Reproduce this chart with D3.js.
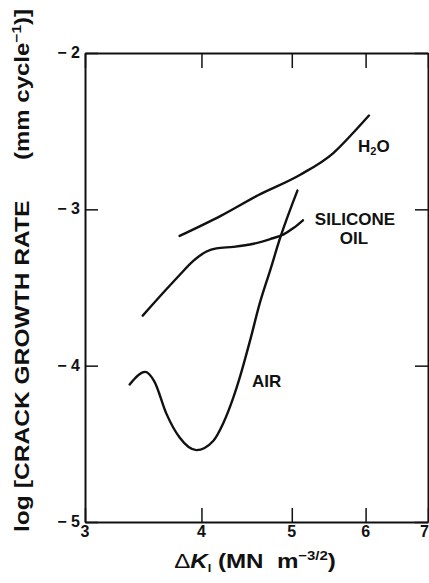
<!DOCTYPE html>
<html>
<head>
<meta charset="utf-8">
<script src="https://cdn.jsdelivr.net/npm/d3@7"></script>
<style>
  html, body { margin: 0; padding: 0; background: #fff; }
  svg { display: block; }
  text { font-family: "Liberation Sans", Arial, Helvetica, sans-serif; font-weight: bold; fill: #111; }
</style>
</head>
<body>
<div id="chart"></div>
<script>
const width = 429;
const height = 583;

// axis ticks
const xTicks = [3, 4, 5, 6, 7];
const yTicks = [-5, -4, -3, -2];

// delta K (MN m^-3/2) vs log crack growth rate
const h2oK = [3.79, 4.20, 4.60, 5.10, 5.54, 5.82, 6.05];
const h2oRate = [-3.17, -3.04, -2.91, -2.78, -2.64, -2.51, -2.40];

const oilK = [3.46, 3.67, 3.79, 3.92, 4.05, 4.15, 4.33, 4.55, 4.74, 4.90, 5.02, 5.14];
const oilRate = [-3.68, -3.51, -3.42, -3.33, -3.27, -3.25, -3.24, -3.22, -3.19, -3.16, -3.12, -3.07];

const airK = [3.35, 3.48, 3.56, 3.67, 3.79, 3.95, 4.12, 4.22, 4.33, 4.40, 4.51, 4.62, 4.74, 4.86, 5.07];
const airRate = [-4.12, -4.04, -4.10, -4.31, -4.46, -4.54, -4.48, -4.37, -4.20, -4.07, -3.84, -3.60, -3.39, -3.18, -2.88];

const svg = d3.select('#chart').append('svg').attr('width', width).attr('height', height);

const x = d3.scaleLog().domain([3, 7]).range([85, 428]);
const y = d3.scaleLinear().domain([-5, -2]).range([522, 53]);

const minus = d => '\u2212 ' + Math.abs(d);

function styleAxis(g) {
	g.select('path.domain').attr('stroke', '#111').attr('stroke-width', 2);
	g.selectAll('.tick line').attr('stroke', '#111').attr('stroke-width', 1.5);
	g.selectAll('.tick text').remove();
}

// frame and inward ticks
svg.append('g')
	.attr('transform', `translate(0,${y(-5)})`)
	.call(d3.axisBottom(x).tickValues(xTicks).tickSize(-14).tickSizeOuter(0))
	.call(styleAxis);

svg.append('g')
	.attr('transform', `translate(0,${y(-2)})`)
	.call(d3.axisTop(x).tickValues(xTicks).tickSize(-15).tickSizeOuter(0))
	.call(styleAxis);

svg.append('g')
	.attr('transform', `translate(${x(3)},0)`)
	.call(d3.axisLeft(y).tickValues(yTicks).tickSize(-13).tickSizeOuter(0))
	.call(styleAxis);

svg.append('g')
	.attr('transform', `translate(${x(7)},0)`)
	.call(d3.axisRight(y).tickValues(yTicks).tickSize(-13).tickSizeOuter(0))
	.call(styleAxis);

// tick labels
svg.selectAll('text.xtick')
	.data(xTicks)
	.enter()
	.append('text')
	.attr('class', 'xtick')
	.attr('x', d => d === 7 ? x(d) + 1 : x(d))
	.attr('y', y(-5) + 15)
	.attr('font-size', 16)
	.attr('text-anchor', d => d === 7 ? 'end' : 'middle')
	.text(d => d);

svg.selectAll('text.ytick')
	.data(yTicks)
	.enter()
	.append('text')
	.attr('class', 'ytick')
	.attr('x', x(3) - 5)
	.attr('y', d => y(d) + 5)
	.attr('font-size', 16)
	.attr('text-anchor', 'end')
	.text(minus);

const line = d3.line()
	.x(d => x(d[0]))
	.y(d => y(d[1]))
	.curve(d3.curveMonotoneX);

const series = [
	d3.zip(h2oK, h2oRate),
	d3.zip(oilK, oilRate),
	d3.zip(airK, airRate)
];

svg.selectAll('path.curve')
	.data(series)
	.enter()
	.append('path')
	.attr('class', 'curve')
	.attr('d', line)
	.attr('fill', 'none')
	.attr('stroke', '#111')
	.attr('stroke-width', 2.4)
	.attr('stroke-linecap', 'round');

// curve labels
const h2o = svg.append('text').attr('x', 358).attr('y', 152).attr('font-size', 17);
h2o.append('tspan').text('H');
h2o.append('tspan').attr('font-size', 11).attr('dy', 3).text('2');
h2o.append('tspan').attr('dy', -3).text('O');

svg.append('text').attr('x', 355).attr('y', 225).attr('font-size', 17)
	.attr('text-anchor', 'middle').text('SILICONE');
svg.append('text').attr('x', 354).attr('y', 244).attr('font-size', 17)
	.attr('text-anchor', 'middle').text('OIL');
svg.append('text').attr('x', 252).attr('y', 387).attr('font-size', 17).text('AIR');

// y title, two parts
svg.append('text')
	.attr('transform', 'translate(29,532) rotate(-90) scale(1.23,1)')
	.attr('font-size', 20)
	.text('log [CRACK GROWTH RATE');

const yUnit = svg.append('text')
	.attr('transform', 'translate(29,160) rotate(-90) scale(1.2,1)')
	.attr('font-size', 20);
yUnit.append('tspan').text('(mm cycle');
yUnit.append('tspan').attr('font-size', 13).attr('dy', -8).text('\u22121');
yUnit.append('tspan').attr('dy', 8).text(')]');

// x title
const xTitle = svg.append('text')
	.attr('transform', 'translate(255,568) scale(1.15,1)')
	.attr('font-size', 21)
	.attr('text-anchor', 'middle');
xTitle.append('tspan').attr('font-weight', 'normal').text('\u0394');
xTitle.append('tspan').attr('font-style', 'italic').text('K');
xTitle.append('tspan').attr('font-size', 11).attr('dy', 4).text('I');
xTitle.append('tspan').attr('dy', -4).text(' (MN\u00a0\u00a0m');
xTitle.append('tspan').attr('font-size', 13).attr('dy', -8).text('\u22123/2');
xTitle.append('tspan').attr('dy', 8).text(')');
</script>
</body>
</html>
